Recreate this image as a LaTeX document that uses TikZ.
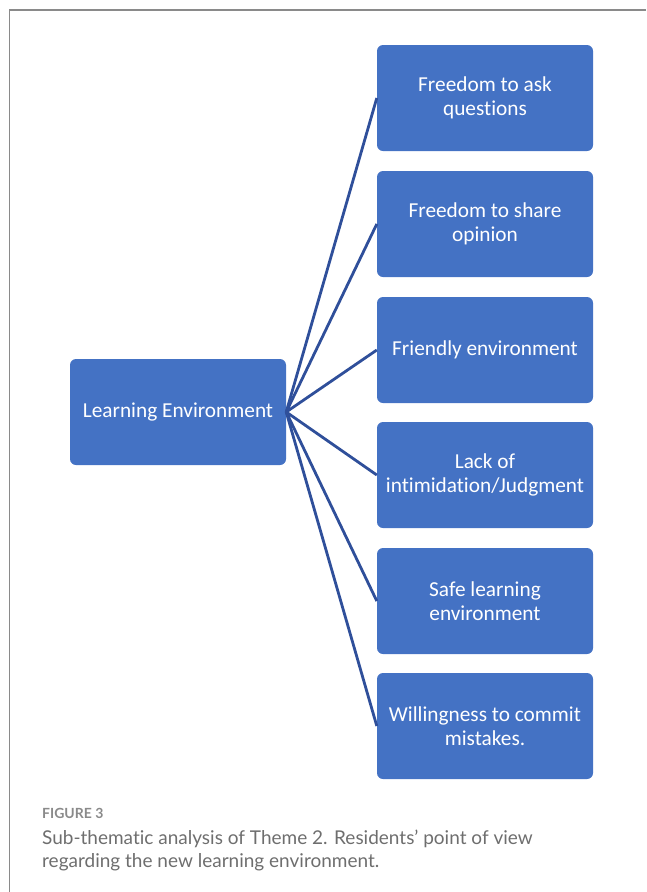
\documentclass[tikz,border=0pt]{standalone}
\usepackage{fontspec}
\setmainfont[Ligatures=NoCommon]{Carlito}
\newfontfamily\capfont[Ligatures=NoCommon]{Lato}
\definecolor{boxblue}{HTML}{4472C4}
\definecolor{lineblue}{HTML}{2F4F9A}
\definecolor{framegray}{HTML}{8A8A8A}
\definecolor{capgray}{HTML}{6E6E6E}
\begin{document}
\begin{tikzpicture}[x=1pt,y=-1pt,
  topicbox/.style={fill=boxblue, rounded corners=6pt, text=white, align=center,
    minimum width=216pt, minimum height=106pt, inner sep=0pt, font=\fontsize{21.3}{24.5}\selectfont},
  subbox/.style={fill=boxblue, rounded corners=6pt, text=white, align=center,
    minimum width=216pt, minimum height=106pt, inner sep=0pt, font=\fontsize{21.3}{24.5}\selectfont},
  link/.style={draw=lineblue, line width=2.8pt}]
\useasboundingbox (0,0) rectangle (646,892);
\draw[framegray, line width=1.6pt] (646,10) -- (9.5,10) -- (9.5,892);
\node[topicbox] (main) at (178,412) {Learning Environment};
\node[subbox] (s1) at (485,98) {Freedom to ask\\questions};
\node[subbox] (s2) at (485,224) {Freedom to share\\opinion};
\node[subbox] (s3) at (485,350) {Friendly environment};
\node[subbox] (s4) at (485,475) {Lack of\\intimidation/Judgment};
\node[subbox] (s5) at (485,601) {Safe learning\\environment};
\node[subbox] (s6) at (485,726) {Willingness to commit\\mistakes.};
\foreach \s in {s1,s2,s3,s4,s5,s6}
  \draw[link] (main.east) -- (\s.west);
\node[anchor=base west, inner sep=0pt, text=framegray, font=\capfont\bfseries\fontsize{14}{17}\selectfont] (fig) at (42,818) {FIGURE 3};
\node[anchor=north west, inner sep=0pt, text=capgray, align=left, font=\capfont\fontsize{19}{23.5}\selectfont] (cap) at (42,829.5) {Sub-thematic analysis of Theme 2. Residents’ point of view\\regarding the new learning environment.};
\end{tikzpicture}
\end{document}
